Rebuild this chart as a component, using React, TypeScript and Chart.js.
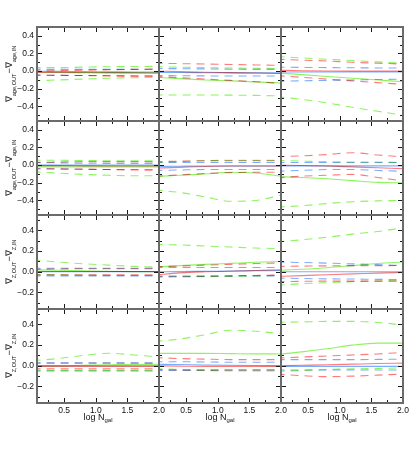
import React, { useEffect, useRef } from "react";
import { Chart, registerables } from "chart.js";

Chart.register(...registerables);

// ---------- data ----------
const logNgal = [0, 0.4, 0.8, 1.2, 1.6, 2.0];
const xTickValues = [0.5, 1.0, 1.5, 2.0];
const yTicksAge = [-0.4, -0.2, 0.0, 0.2, 0.4];
const yTicksZ = [-0.2, 0.0, 0.2, 0.4];
const xRange = [0.07, 2.0];
const yRangeAge = [-0.565, 0.5];
const yRangeZ = [-0.36, 0.55];

// each series: [upper (dashed), median (solid), lower (dashed)]
const r1c1Red = [[0.0, 0.005, 0.01, 0.015, 0.02, 0.025], [-0.015, -0.015, -0.018, -0.02, -0.02, -0.022], [-0.045, -0.048, -0.05, -0.055, -0.06, -0.06]];
const r1c1Green = [[0.04, 0.04, 0.045, 0.05, 0.052, 0.055], [-0.01, -0.012, -0.015, -0.015, -0.018, -0.02], [-0.11, -0.1, -0.09, -0.08, -0.075, -0.07]];
const r1c1Blue = [[0.02, 0.02, 0.02, 0.02, 0.02, 0.02], [0.0, -0.003, -0.006, -0.008, -0.01, -0.01], [-0.045, -0.047, -0.05, -0.05, -0.05, -0.05]];

const r1c2Red = [[0.09, 0.085, 0.08, 0.075, 0.07, 0.065], [0.0, -0.006, -0.012, -0.017, -0.022, -0.027], [-0.06, -0.075, -0.09, -0.105, -0.12, -0.14]];
const r1c2Green = [[0.05, 0.045, 0.04, 0.035, 0.032, 0.03], [-0.07, -0.085, -0.1, -0.11, -0.122, -0.135], [-0.27, -0.27, -0.27, -0.272, -0.275, -0.28]];
const r1c2Blue = [[0.03, 0.028, 0.025, 0.022, 0.02, 0.02], [-0.015, -0.016, -0.018, -0.02, -0.02, -0.02], [-0.05, -0.052, -0.054, -0.055, -0.055, -0.055]];

const r1c3Red = [[0.135, 0.125, 0.115, 0.1, 0.09, 0.08], [0.01, 0.005, 0.002, 0.0, 0.0, 0.0], [-0.05, -0.07, -0.09, -0.11, -0.13, -0.15]];
const r1c3Green = [[0.165, 0.15, 0.135, 0.12, 0.105, 0.09], [-0.02, -0.04, -0.06, -0.08, -0.1, -0.12], [-0.29, -0.32, -0.36, -0.41, -0.455, -0.5]];
const r1c3Blue = [[0.045, 0.042, 0.04, 0.038, 0.036, 0.035], [-0.01, -0.01, -0.01, -0.01, -0.01, -0.01], [-0.115, -0.11, -0.105, -0.1, -0.095, -0.09]];

const r2c1Red = [[0.03, 0.035, 0.04, 0.04, 0.04, 0.04], [-0.005, -0.006, -0.008, -0.01, -0.01, -0.01], [-0.04, -0.042, -0.045, -0.05, -0.055, -0.06]];
const r2c1Green = [[0.055, 0.055, 0.052, 0.05, 0.05, 0.05], [-0.02, -0.02, -0.02, -0.02, -0.02, -0.02], [-0.075, -0.09, -0.105, -0.115, -0.12, -0.12]];
const r2c1Blue = [[0.03, 0.026, 0.022, 0.02, 0.02, 0.02], [0.0, 0.0, 0.0, 0.0, 0.0, 0.0], [-0.04, -0.044, -0.047, -0.05, -0.05, -0.05]];

const r2c2Red = [[0.04, 0.045, 0.05, 0.05, 0.05, 0.05], [-0.035, -0.025, -0.015, -0.01, -0.01, -0.01], [-0.125, -0.11, -0.095, -0.085, -0.08, -0.08]];
const r2c2Green = [[0.03, 0.04, 0.05, 0.055, 0.055, 0.055], [-0.13, -0.115, -0.1, -0.08, -0.09, -0.125], [-0.28, -0.31, -0.36, -0.41, -0.4, -0.34]];
const r2c2Blue = [[0.03, 0.03, 0.03, 0.03, 0.03, 0.03], [-0.015, -0.012, -0.01, -0.01, -0.01, -0.01], [-0.06, -0.055, -0.05, -0.05, -0.05, -0.05]];

const r2c3Red = [[0.095, 0.105, 0.12, 0.14, 0.115, 0.095], [0.0, -0.005, -0.01, -0.02, -0.03, -0.04], [-0.145, -0.125, -0.115, -0.105, -0.14, -0.18]];
const r2c3Green = [[0.055, 0.045, 0.04, 0.035, 0.035, 0.03], [-0.13, -0.14, -0.155, -0.175, -0.195, -0.2], [-0.475, -0.46, -0.435, -0.415, -0.405, -0.4]];
const r2c3Blue = [[0.03, 0.03, 0.03, 0.03, 0.03, 0.03], [-0.008, -0.008, -0.008, -0.008, -0.008, -0.008], [-0.07, -0.06, -0.05, -0.05, -0.06, -0.07]];

const r3c1Red = [[0.025, 0.027, 0.03, 0.03, 0.03, 0.03], [0.003, 0.003, 0.003, 0.003, 0.003, 0.003], [-0.03, -0.03, -0.03, -0.03, -0.03, -0.03]];
const r3c1Green = [[0.116, 0.095, 0.078, 0.065, 0.053, 0.045], [0.02, 0.015, 0.01, 0.005, 0.002, 0.0], [-0.03, -0.03, -0.033, -0.035, -0.035, -0.035]];
const r3c1Blue = [[0.035, 0.035, 0.035, 0.035, 0.035, 0.035], [0.0, 0.0, 0.0, 0.0, 0.0, 0.0], [-0.04, -0.04, -0.04, -0.04, -0.04, -0.04]];

const r3c2Red = [[0.05, 0.055, 0.065, 0.072, 0.08, 0.085], [-0.03, -0.01, 0.0, 0.006, 0.013, 0.02], [-0.04, -0.04, -0.04, -0.037, -0.035, -0.03]];
const r3c2Green = [[0.265, 0.26, 0.25, 0.24, 0.23, 0.225], [0.045, 0.06, 0.072, 0.082, 0.092, 0.1], [-0.055, -0.05, -0.047, -0.045, -0.04, -0.035]];
const r3c2Blue = [[0.042, 0.042, 0.042, 0.042, 0.042, 0.042], [0.0, 0.002, 0.005, 0.008, 0.01, 0.012], [-0.045, -0.045, -0.044, -0.042, -0.04, -0.04]];

const r3c3Red = [[0.052, 0.055, 0.058, 0.06, 0.06, 0.061], [-0.045, -0.037, -0.028, -0.02, -0.013, -0.005], [-0.095, -0.092, -0.09, -0.09, -0.09, -0.09]];
const r3c3Green = [[0.29, 0.31, 0.335, 0.365, 0.39, 0.425], [0.013, 0.025, 0.04, 0.06, 0.08, 0.095], [-0.13, -0.115, -0.105, -0.095, -0.09, -0.085]];
const r3c3Blue = [[0.094, 0.09, 0.084, 0.077, 0.07, 0.061], [0.0, 0.0, 0.0, 0.0, 0.0, 0.0], [-0.06, -0.065, -0.068, -0.07, -0.073, -0.075]];

const r4c1Red = [[0.025, 0.025, 0.025, 0.025, 0.025, 0.025], [-0.005, -0.005, -0.005, -0.005, -0.005, -0.005], [-0.03, -0.03, -0.03, -0.03, -0.03, -0.03]];
const r4c1Green = [[0.05, 0.07, 0.1, 0.122, 0.105, 0.085], [0.0, 0.0, 0.005, 0.01, 0.012, 0.015], [-0.045, -0.045, -0.045, -0.045, -0.045, -0.045]];
const r4c1Blue = [[0.03, 0.03, 0.03, 0.03, 0.03, 0.03], [0.0, 0.0, 0.0, 0.0, 0.0, 0.0], [-0.05, -0.05, -0.05, -0.05, -0.05, -0.05]];

const r4c2Red = [[0.08, 0.07, 0.065, 0.06, 0.06, 0.06], [0.0, -0.003, -0.005, -0.005, -0.005, -0.005], [-0.035, -0.04, -0.04, -0.04, -0.04, -0.04]];
const r4c2Green = [[0.235, 0.26, 0.3, 0.345, 0.335, 0.31], [0.12, 0.12, 0.12, 0.118, 0.116, 0.115], [-0.03, -0.035, -0.045, -0.05, -0.05, -0.05]];
const r4c2Blue = [[0.04, 0.04, 0.037, 0.035, 0.035, 0.035], [0.015, 0.012, 0.008, 0.005, 0.003, 0.002], [-0.045, -0.045, -0.042, -0.04, -0.04, -0.04]];

const r4c3Red = [[0.075, 0.085, 0.095, 0.105, 0.115, 0.13], [0.0, 0.005, 0.01, 0.016, 0.022, 0.026], [-0.08, -0.095, -0.105, -0.1, -0.09, -0.08]];
const r4c3Green = [[0.42, 0.425, 0.43, 0.43, 0.42, 0.395], [0.11, 0.135, 0.165, 0.2, 0.22, 0.22], [-0.055, -0.045, -0.035, -0.03, -0.025, -0.02]];
const r4c3Blue = [[0.06, 0.06, 0.06, 0.06, 0.062, 0.065], [-0.005, -0.005, -0.005, -0.005, -0.005, -0.005], [-0.04, -0.04, -0.04, -0.04, -0.04, -0.04]];

const panelSeries = [
  [[r1c1Red, r1c1Green, r1c1Blue], [r1c2Red, r1c2Green, r1c2Blue], [r1c3Red, r1c3Green, r1c3Blue]],
  [[r2c1Red, r2c1Green, r2c1Blue], [r2c2Red, r2c2Green, r2c2Blue], [r2c3Red, r2c3Green, r2c3Blue]],
  [[r3c1Red, r3c1Green, r3c1Blue], [r3c2Red, r3c2Green, r3c2Blue], [r3c3Red, r3c3Green, r3c3Blue]],
  [[r4c1Red, r4c1Green, r4c1Blue], [r4c2Red, r4c2Green, r4c2Blue], [r4c3Red, r4c3Green, r4c3Blue]],
];

// ---------- layout / style ----------
const COLORS = ["rgba(255,70,70,0.72)", "rgba(110,240,50,0.78)", "rgba(70,140,255,0.72)"];
const COL_LEFTS = [37, 159, 281];
const ROW_TOPS = [27, 121, 215, 309];
const PLOT_W = 122;
const PLOT_H = 94;
const PAD = 10;
const PAD_R = 12;
const Y_AXIS_W = 36;
const X_AXIS_H = 16;
const FONT = "'Liberation Sans', Arial, Helvetica, sans-serif";

const fmt = (v: number) => (v < -1e-9 ? "\u2212" + Math.abs(v).toFixed(1) : Math.abs(v).toFixed(1));

const frameTicks = {
  id: "frameTicks",
  beforeDatasetsDraw(chart: any) {
    chart.ctx.save();
    chart.ctx.globalCompositeOperation = "multiply";
  },
  afterDatasetsDraw(chart: any) {
    chart.ctx.restore();
  },
  afterDraw(chart: any) {
    const { ctx, chartArea: a, scales } = chart;
    const xs = scales.x;
    const ys = scales.y;
    ctx.save();
    ctx.strokeStyle = "#1a1a1a";
    ctx.lineWidth = 1;
    ctx.beginPath();
    for (let k = 1; k * 0.25 < xs.max - 1e-6; k++) {
      const v = k * 0.25;
      if (v <= xs.min) continue;
      const px = Math.round(xs.getPixelForValue(v)) + 0.5;
      const len = k % 2 === 0 ? 5 : 3;
      ctx.moveTo(px, a.top);
      ctx.lineTo(px, a.top + len);
      ctx.moveTo(px, a.bottom);
      ctx.lineTo(px, a.bottom - len);
    }
    const k0 = Math.ceil(ys.min * 10 + 1e-6);
    const k1 = Math.floor(ys.max * 10 - 1e-6);
    for (let k = k0; k <= k1; k++) {
      const py = Math.round(ys.getPixelForValue(k / 10)) + 0.5;
      const len = Math.abs(k) % 2 === 0 ? 5 : 3;
      ctx.moveTo(a.left, py);
      ctx.lineTo(a.left + len, py);
      ctx.moveTo(a.right, py);
      ctx.lineTo(a.right - len, py);
    }
    ctx.stroke();
    ctx.strokeStyle = "#6b6b6b";
    ctx.lineWidth = 2;
    ctx.strokeRect(Math.round(a.left), Math.round(a.top), Math.round(a.right - a.left), Math.round(a.bottom - a.top));
    ctx.restore();
  },
};

function Panel({ row, col }: { row: number; col: number }) {
  const ref = useRef<HTMLCanvasElement>(null);
  const yW = col === 0 ? Y_AXIS_W : 0;
  const xH = row === 3 ? X_AXIS_H : 0;
  const cw = PAD + yW + PLOT_W + PAD_R;
  const ch = PAD + PLOT_H + PAD + xH;
  const isAge = row < 2;
  const yRange = isAge ? yRangeAge : yRangeZ;
  const yTicks = isAge ? yTicksAge : yTicksZ;

  useEffect(() => {
    if (!ref.current) return;
    const series = panelSeries[row][col];
    const datasets: any[] = [];
    series.forEach((group, ci) => {
      group.forEach((vals, li) => {
        datasets.push({
          data: logNgal.map((x, i) => ({ x, y: vals[i] })),
          borderColor: COLORS[ci],
          borderWidth: 1.1,
          borderDash: li === 1 ? [] : [8, 6],
          pointRadius: 0,
          fill: false,
          cubicInterpolationMode: "monotone",
          clip: 0,
        });
      });
    });
    const chart = new Chart(ref.current, {
      type: "line",
      data: { datasets },
      plugins: [frameTicks],
      options: {
        animation: false,
        responsive: false,
        events: [],
        layout: { padding: { left: PAD, right: PAD_R, top: PAD, bottom: PAD } },
        plugins: { legend: { display: false }, tooltip: { enabled: false } },
        scales: {
          x: {
            type: "linear",
            min: xRange[0],
            max: xRange[1],
            grid: { display: false, drawTicks: false },
            border: { display: false },
            ticks: {
              display: row === 3,
              padding: 3,
              color: "#111",
              font: { family: FONT, size: 8.5 },
              maxRotation: 0,
              autoSkip: false,
              callback: (v: any) => Number(v).toFixed(1),
            },
            afterBuildTicks: (s: any) => {
              s.ticks = xTickValues.map((value) => ({ value }));
            },
            afterFit: (s: any) => {
              s.height = xH;
            },
          },
          y: {
            type: "linear",
            min: yRange[0],
            max: yRange[1],
            grid: { display: false, drawTicks: false },
            border: { display: false },
            ticks: {
              display: col === 0,
              padding: 3,
              color: "#111",
              font: { family: FONT, size: 8.5 },
              autoSkip: false,
              callback: (v: any) => fmt(Number(v)),
            },
            afterBuildTicks: (s: any) => {
              s.ticks = yTicks.map((value) => ({ value }));
            },
            afterFit: (s: any) => {
              s.width = yW;
            },
          },
        },
      } as any,
    });
    return () => chart.destroy();
  }, []);

  return (
    <canvas
      ref={ref}
      width={cw}
      height={ch}
      style={{
        position: "absolute",
        left: COL_LEFTS[col] - PAD - yW,
        top: ROW_TOPS[row] - PAD,
        width: cw,
        height: ch,
      }}
    />
  );
}

const subStyle: React.CSSProperties = { fontSize: "5.6px", verticalAlign: "-3.5px" };

function YTitle({ row }: { row: number }) {
  const cy = ROW_TOPS[row] + PLOT_H / 2;
  const q = row < 2 ? "age" : "Z";
  return (
    <div
      style={{
        position: "absolute",
        left: 9 - 50,
        top: cy - 5,
        width: 100,
        height: 10,
        lineHeight: "10px",
        fontSize: "9px",
        fontFamily: FONT,
        color: "#111",
        textAlign: "center",
        whiteSpace: "nowrap",
        transform: "rotate(-90deg)",
      }}
    >
      ∇<span style={subStyle}>{q},OUT</span>−∇<span style={subStyle}>{q},IN</span>
    </div>
  );
}

function XTitle({ col }: { col: number }) {
  const cx = COL_LEFTS[col] + PLOT_W / 2;
  return (
    <div
      style={{
        position: "absolute",
        left: cx - 40,
        top: 412,
        width: 80,
        height: 10,
        lineHeight: "10px",
        fontSize: "9px",
        fontFamily: FONT,
        color: "#111",
        textAlign: "center",
        whiteSpace: "nowrap",
      }}
    >
      log N<span style={{ fontSize: "6px", verticalAlign: "-2px" }}>gal</span>
    </div>
  );
}

export default function App() {
  const cells: JSX.Element[] = [];
  for (let r = 0; r < 4; r++) for (let c = 0; c < 3; c++) cells.push(<Panel key={`p${r}${c}`} row={r} col={c} />);
  return (
    <div style={{ position: "absolute", left: 0, top: 0, width: 416, height: 457, background: "#fff", overflow: "hidden" }}>
      {cells}
      {[0, 1, 2, 3].map((r) => (
        <YTitle key={`y${r}`} row={r} />
      ))}
      {[0, 1, 2].map((c) => (
        <XTitle key={`x${c}`} col={c} />
      ))}
    </div>
  );
}
